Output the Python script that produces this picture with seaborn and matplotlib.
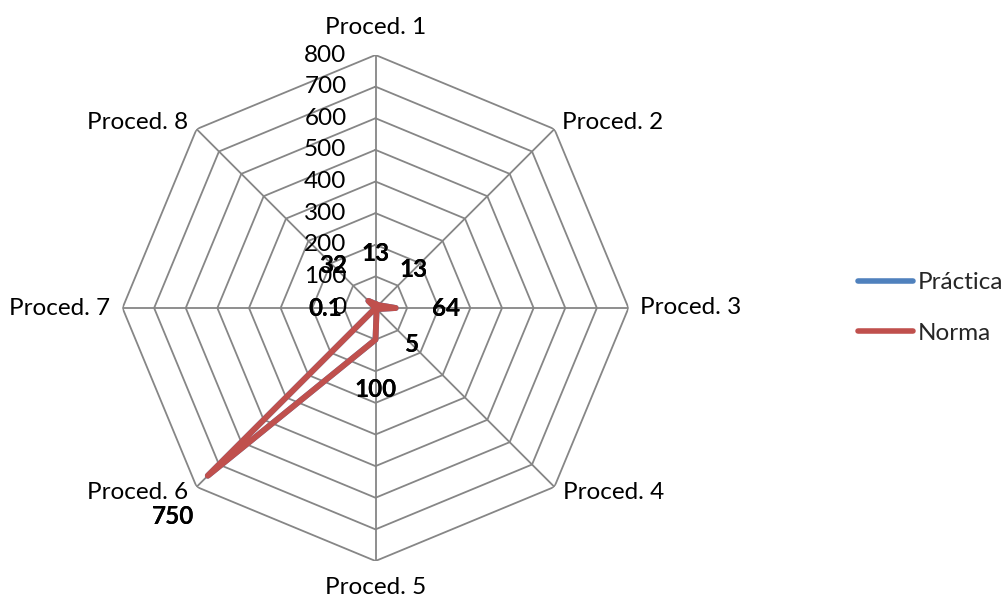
import numpy as np
import pandas as pd
import matplotlib
matplotlib.use("Agg")
import matplotlib.pyplot as plt
import seaborn as sns

# Categories and series values
categorias = ["Proced. 1", "Proced. 2", "Proced. 3", "Proced. 4",
              "Proced. 5", "Proced. 6", "Proced. 7", "Proced. 8"]
practica = [13, 13, 64, 5, 100, 750, 0.1, 32]
norma = [13, 13, 64, 5, 100, 750, 0.1, 32]
series = ["Práctica", "Norma"]
niveles = [0, 100, 200, 300, 400, 500, 600, 700, 800]

sns.set_theme(style="white")
plt.rcParams["font.family"] = ["Lato", "DejaVu Sans"]
FS = 17.5

colores = {"Práctica": "#4F81BD", "Norma": "#C0504D"}
gris = "#868686"

n = len(categorias)
ang = np.linspace(0, 2 * np.pi, n, endpoint=False)
ang_c = np.append(ang, 2 * np.pi)

filas = []
for nombre, vals in zip(series, [practica, norma]):
    for a, v in zip(ang_c, list(vals) + [vals[0]]):
        filas.append({"theta": a, "valor": v, "serie": nombre})
df = pd.DataFrame(filas)

fig = plt.figure(figsize=(10.05, 6.01), dpi=100)
ax = fig.add_axes([122.5 / 1005, 40 / 601, 506 / 1005, 506 / 601], projection="polar")
ax.set_theta_zero_location("N")
ax.set_theta_direction(-1)
ax.set_ylim(0, 800)
ax.grid(False)
ax.set_xticks([])
ax.set_yticks([])
ax.spines["polar"].set_visible(False)
ax.set_facecolor("none")

# Octagonal grid and spokes
for lvl in niveles[1:]:
    ax.plot(ang_c, [lvl] * (n + 1), color=gris, lw=1.3, zorder=1)
for a in ang:
    ax.plot([a, a], [0, 800], color=gris, lw=1.3, zorder=1)

sns.lineplot(data=df, x="theta", y="valor", hue="serie", sort=False,
             palette=colores, linewidth=4.2, ax=ax, zorder=3,
             solid_joinstyle="round", solid_capstyle="round")
ax.set_xlabel("")
ax.set_ylabel("")

# Radial tick labels
for v in niveles:
    ax.annotate(f"{v}", xy=(0, v), xytext=(-29, 0), textcoords="offset pixels",
                ha="right", va="center", fontsize=FS, color="black", zorder=5)

# Category labels around the octagon
cat_pos = [((0, 28), "center", "center"), ((8, 7), "left", "center"),
           ((12, 0), "left", "center"), ((9, -6), "left", "center"),
           ((0, -27), "center", "center"), ((-8, -6), "right", "center"),
           ((-12, 0), "right", "center"), ((-8, 7), "right", "center")]
for a, cat, (off, ha, va) in zip(ang, categorias, cat_pos):
    ax.annotate(cat, xy=(a, 800), xytext=off, textcoords="offset pixels",
                ha=ha, va=va, fontsize=FS, color="black", annotation_clip=False)

# Data labels
for vals in [practica, norma]:
    for i, (a, v) in enumerate(zip(ang, vals)):
        if i == 5:
            off = (-35, -41)
        else:
            off = (50 * np.sin(a), 50 * np.cos(a))
        ax.annotate(f"{v:g}", xy=(a, v), xytext=off, textcoords="offset pixels",
                    ha="center", va="center", fontsize=FS, fontweight="bold",
                    color="black", zorder=6, annotation_clip=False)

leg = ax.legend(loc="center left", bbox_to_anchor=(858 / 1005, 1 - 308 / 601),
                bbox_transform=fig.transFigure, frameon=False, fontsize=FS,
                handlelength=2.26, handletextpad=0.2, labelspacing=1.2,
                borderpad=0, borderaxespad=0)
for line in leg.get_lines():
    line.set_linewidth(4)
    line.set_solid_capstyle("round")

fig.savefig("out.png", dpi=100)
